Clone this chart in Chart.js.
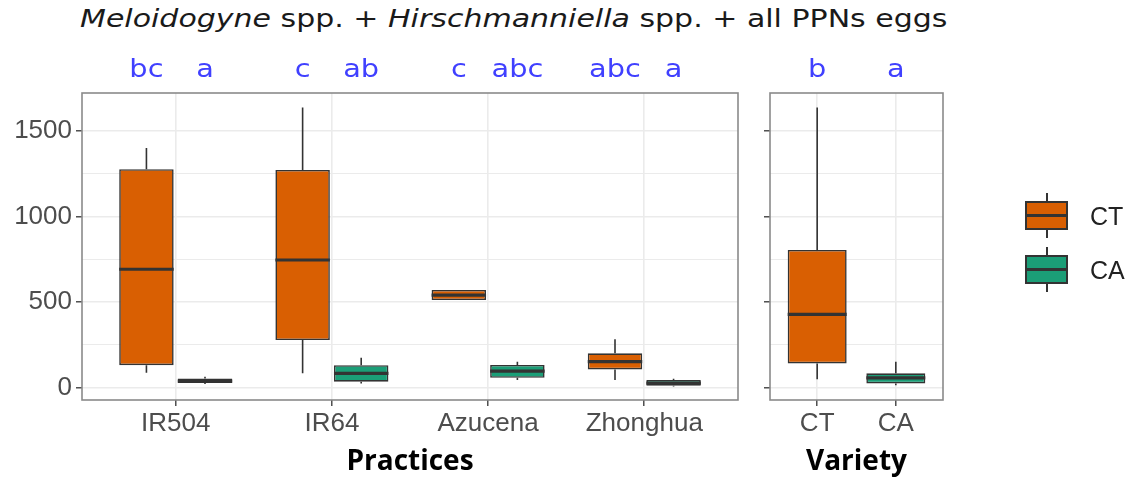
<!DOCTYPE html>
<html>
<head>
<meta charset="utf-8">
<script src="https://cdn.jsdelivr.net/npm/chart.js@4.4.1/dist/chart.umd.min.js"></script>
<style>
html,body{margin:0;padding:0;background:#fff;}
#wrap{position:relative;width:1134px;height:482px;overflow:hidden;background:#fff;}
#title{position:absolute;left:80px;top:4px;font-family:"DejaVu Sans";font-size:25px;line-height:30px;color:#1a1a1a;white-space:nowrap;transform:scaleX(1.2);transform-origin:0 0;}
canvas{position:absolute;top:0;}
#c1{left:0;}
#c2{left:750px;}
.key{position:absolute;box-sizing:border-box;width:43px;height:29px;border:2px solid #333;}
.key .med{position:absolute;left:0;right:0;top:50%;height:3px;margin-top:-1.5px;background:#333;}
.whisk{position:absolute;width:2px;background:#333;}
.ltxt{position:absolute;font-family:"Liberation Sans",Arial,sans-serif;font-size:25px;line-height:30px;color:#222;}
</style>
</head>
<body>
<div id="wrap">
  <div id="title"><i>Meloidogyne</i> spp. + <i>Hirschmanniella</i> spp. + all PPNs eggs</div>
  <canvas id="c1" width="750" height="482"></canvas>
  <canvas id="c2" width="384" height="482"></canvas>
  <div id="legend"></div>
</div>
<script>
// ---- data ----
const categories = ['IR504', 'IR64', 'Azucena', 'Zhonghua'];
const ctMin = [85, 82, 511, 43];
const ctQ1  = [130, 277, 511, 105];
const ctMed = [691, 745, 540, 150];
const ctQ3  = [1276, 1272, 570, 199];
const ctMax = [1400, 1637, 570, 281];
const caMin = [20, 23, 43, 5];
const caQ1  = [25, 33, 56, 10];
const caMed = [37, 82, 95, 25];
const caQ3  = [52, 130, 131, 43];
const caMax = [62, 173, 150, 50];
const ctLetters = ['bc', 'c', 'c', 'abc'];
const caLetters = ['a', 'ab', 'abc', 'a'];

const varietyCats = ['CT', 'CA'];
const varMin = [47, 13];
const varQ1  = [140, 23];
const varMed = [427, 56];
const varQ3  = [804, 82];
const varMax = [1637, 150];
const varLetters = ['b', 'a'];

const yTicks = [0, 250, 500, 750, 1000, 1250, 1500];
const yRange = [-74, 1722];
const seriesNames = ['CT', 'CA'];

// ---- styles ----
const COLORS = { CT: '#d95f02', CA: '#1b9e77' };
const LINE = '#333333';
const GRID = '#ebebeb';
const TICKTXT = '#4d4d4d';
const tickFont = { family: '"Liberation Sans", Arial, sans-serif', size: 26 };
const titleFont = { family: '"Open Sans", sans-serif', size: 28, weight: 'bold' };

const boxPlugin = {
  id: 'boxparts',
  beforeDatasetsDraw(chart) {
    const ctx = chart.ctx, ys = chart.scales.y;
    chart.data.datasets.forEach((ds, di) => {
      const meta = chart.getDatasetMeta(di);
      const s = ds.stats;
      meta.data.forEach((el, i) => {
        const x = el.x;
        ctx.save();
        ctx.strokeStyle = LINE;
        ctx.lineWidth = 1.6;
        ctx.beginPath();
        ctx.moveTo(x, ys.getPixelForValue(s.q3[i]));
        ctx.lineTo(x, ys.getPixelForValue(s.max[i]));
        ctx.moveTo(x, ys.getPixelForValue(s.q1[i]));
        ctx.lineTo(x, ys.getPixelForValue(s.min[i]));
        ctx.stroke();
        ctx.restore();
      });
    });
  },
  afterDatasetsDraw(chart) {
    const ctx = chart.ctx, ys = chart.scales.y, ca = chart.chartArea;
    chart.data.datasets.forEach((ds, di) => {
      const meta = chart.getDatasetMeta(di);
      const s = ds.stats;
      meta.data.forEach((el, i) => {
        const x = el.x, w = el.width;
        const ym = ys.getPixelForValue(s.med[i]);
        ctx.save();
        ctx.strokeStyle = LINE;
        ctx.lineWidth = 3.2;
        ctx.beginPath();
        ctx.moveTo(x - w / 2, ym);
        ctx.lineTo(x + w / 2, ym);
        ctx.stroke();
        // significance letters
        ctx.fillStyle = '#4040ff';
        ctx.font = '24px "DejaVu Sans"';
        ctx.textAlign = 'center';
        ctx.textBaseline = 'alphabetic';
        ctx.translate(x, ca.top - 16);
        ctx.scale(1.2, 1);
        ctx.fillText(ds.letters[i], 0, 0);
        ctx.restore();
      });
    });
  },
  afterDraw(chart) {
    const ctx = chart.ctx, ca = chart.chartArea;
    ctx.save();
    ctx.strokeStyle = '#8a8a8a';
    ctx.lineWidth = 1.6;
    ctx.strokeRect(ca.left, ca.top, ca.right - ca.left, ca.bottom - ca.top);
    ctx.restore();
  }
};

function yScale(showLabels, width) {
  return {
    min: yRange[0], max: yRange[1],
    afterBuildTicks: s => { s.ticks = yTicks.map(v => ({ value: v })); },
    afterFit: s => { s.width = width; },
    border: { display: false },
    grid: {
      color: GRID,
      lineWidth: c => (c.tick && c.tick.value % 500 === 0) ? 1.6 : 1,
      tickLength: 6,
      tickWidth: 1.3,
      tickColor: c => (c.tick && c.tick.value % 500 === 0) ? LINE : 'rgba(0,0,0,0)'
    },
    ticks: {
      callback: v => (showLabels && v % 500 === 0) ? String(v) : '',
      color: TICKTXT, font: tickFont, padding: 4, autoSkip: false
    }
  };
}

function xScale(labels, title) {
  return {
    type: 'linear',
    min: -0.6, max: labels.length - 1 + 0.6,
    offset: false,
    afterBuildTicks: s => { s.ticks = labels.map((c, i) => ({ value: i })); },
    afterFit: s => { s.height = 82; },
    border: { display: false },
    grid: { color: GRID, lineWidth: 1.6, offset: false, tickLength: 6, tickWidth: 1.3, tickColor: LINE },
    ticks: { callback: (v, i) => labels[i], autoSkip: false, maxRotation: 0, minRotation: 0,
             color: TICKTXT, font: tickFont, padding: 2 },
    title: { display: true, text: title, font: titleFont, color: '#000', padding: { top: 0, bottom: 3 } }
  };
}

const commonOpts = {
  responsive: false,
  maintainAspectRatio: false,
  animation: false,
  events: [],
  plugins: { legend: { display: false }, tooltip: { enabled: false } }
};

// ---- left panel: Practices ----
new Chart(document.getElementById('c1'), {
  type: 'bar',
  data: {
    datasets: [
      {
        label: seriesNames[0],
        data: categories.map((c, i) => ({ x: i, y: [ctQ1[i], ctQ3[i]] })),
        backgroundColor: COLORS.CT, borderColor: LINE, borderWidth: 1.6, borderSkipped: false,
        categoryPercentage: 0.75, barPercentage: 0.93,
        stats: { min: ctMin, q1: ctQ1, med: ctMed, q3: ctQ3, max: ctMax },
        letters: ctLetters
      },
      {
        label: seriesNames[1],
        data: categories.map((c, i) => ({ x: i, y: [caQ1[i], caQ3[i]] })),
        backgroundColor: COLORS.CA, borderColor: LINE, borderWidth: 1.6, borderSkipped: false,
        categoryPercentage: 0.75, barPercentage: 0.93,
        stats: { min: caMin, q1: caQ1, med: caMed, q3: caQ3, max: caMax },
        letters: caLetters
      }
    ]
  },
  options: Object.assign({}, commonOpts, {
    layout: { padding: { top: 93, right: 12, bottom: 0, left: 0 } },
    scales: { x: xScale(categories, 'Practices'), y: yScale(true, 82) }
  }),
  plugins: [boxPlugin]
});

// ---- right panel: Variety ----
new Chart(document.getElementById('c2'), {
  type: 'bar',
  data: {
    datasets: [
      {
        label: 'Variety',
        data: varietyCats.map((c, i) => ({ x: i, y: [varQ1[i], varQ3[i]] })),
        backgroundColor: varietyCats.map(c => COLORS[c]), borderColor: LINE, borderWidth: 1.6, borderSkipped: false,
        categoryPercentage: 0.75, barPercentage: 1,
        stats: { min: varMin, q1: varQ1, med: varMed, q3: varQ3, max: varMax },
        letters: varLetters
      }
    ]
  },
  options: Object.assign({}, commonOpts, {
    layout: { padding: { top: 93, right: 191, bottom: 0, left: 0 } },
    scales: { x: xScale(varietyCats, 'Variety'), y: yScale(false, 20) }
  }),
  plugins: [boxPlugin]
});

// ---- legend ----
const legend = document.getElementById('legend');
seriesNames.forEach((name, i) => {
  const top = 201 + i * 53.5;
  const cx = 1046.5;
  const w1 = document.createElement('div');
  w1.className = 'whisk';
  Object.assign(w1.style, { left: (cx - 1) + 'px', top: (top - 8) + 'px', height: '9px' });
  const w2 = document.createElement('div');
  w2.className = 'whisk';
  Object.assign(w2.style, { left: (cx - 1) + 'px', top: (top + 28) + 'px', height: '9px' });
  const key = document.createElement('div');
  key.className = 'key';
  Object.assign(key.style, { left: '1025px', top: top + 'px', background: COLORS[name] });
  const med = document.createElement('div');
  med.className = 'med';
  key.appendChild(med);
  const t = document.createElement('div');
  t.className = 'ltxt';
  t.textContent = name;
  Object.assign(t.style, { left: '1090px', top: top + 'px' });
  legend.append(w1, w2, key, t);
});
</script>
</body>
</html>
